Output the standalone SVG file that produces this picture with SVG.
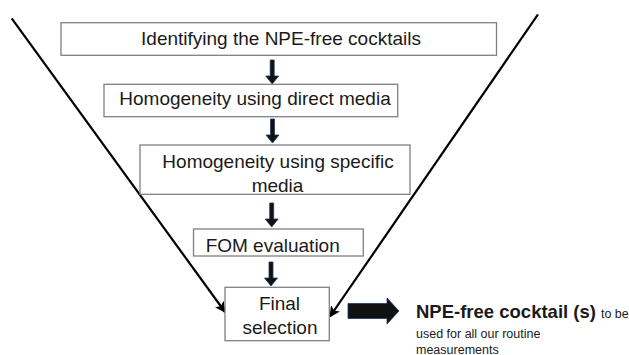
<svg xmlns="http://www.w3.org/2000/svg" width="629" height="355" viewBox="0 0 629 355">
<style>
.box{fill:#fff;stroke:#808080;stroke-width:1.3}
.t{font-family:"Liberation Sans",Arial,sans-serif;font-size:19px;fill:#1a1a1a;text-anchor:middle}
.s{font-family:"Liberation Sans",Arial,sans-serif;font-size:12.5px;fill:#1a1a1a}
.b{font-family:"Liberation Sans",Arial,sans-serif;font-size:18.5px;font-weight:bold;fill:#1a1a1a}
.arr{fill:#111;stroke:#203864;stroke-width:0.8}
.fun{stroke:#000;stroke-width:2.2;fill:none;marker-end:url(#ah)}
</style>
<defs>
<marker id="ah" viewBox="0 0 10 10" refX="9" refY="5" markerWidth="5" markerHeight="5" orient="auto" markerUnits="strokeWidth">
<path d="M0,0 L10,5 L0,10 L2.5,5 z" fill="#000"/>
</marker>
</defs>
<g id="connectors">
<line class="fun" x1="11.7" y1="18.3" x2="225" y2="312"/>
<line class="fun" x1="538" y1="14.3" x2="330" y2="316.5"/>
<path class="arr" d="M270.2,60 h4 v16 h4.5 l-6.5,8 l-6.5,-8 h4.5 z"/>
<path class="arr" d="M270.5,119 h4 v16 h4.5 l-6.5,8 l-6.5,-8 h4.5 z"/>
<path class="arr" d="M269.7,203 h4 v16 h4.5 l-6.5,8 l-6.5,-8 h4.5 z"/>
<path class="arr" d="M269,262 h4 v16 h4.5 l-6.5,8 l-6.5,-8 h4.5 z"/>
<path class="arr" d="M348,303.5 h39 v-5.5 l12,13 l-12,13 v-5.5 h-39 z"/>
</g>
<g id="n1">
<rect class="box" x="61" y="22.7" width="435.5" height="32.6"/>
<text class="t" x="281" y="45">Identifying the NPE-free cocktails</text>
</g>
<g id="n2">
<rect class="box" x="104" y="84.3" width="293.7" height="32.4"/>
<text class="t" x="255" y="105">Homogeneity using direct media</text>
</g>
<g id="n3">
<rect class="box" x="140" y="145" width="270" height="49.3"/>
<text class="t" x="278" y="168.3">Homogeneity using specific</text>
<text class="t" x="277.5" y="191.7">media</text>
</g>
<g id="n4">
<rect class="box" x="193.5" y="229" width="169.8" height="27"/>
<text class="t" x="272.7" y="251.5">FOM evaluation</text>
</g>
<g id="n5">
<rect class="box" x="225" y="287.3" width="104.3" height="53.4"/>
<text class="t" x="279.5" y="310">Final</text>
<text class="t" x="280" y="334">selection</text>
</g>
<g id="result">
<text x="416" y="318"><tspan class="b">NPE-free cocktail (s)</tspan><tspan class="s" dx="5">to be</tspan></text>
<text class="s" x="416" y="338">used for all our routine</text>
<text class="s" x="416" y="353.5">measurements</text>
</g>
</svg>
